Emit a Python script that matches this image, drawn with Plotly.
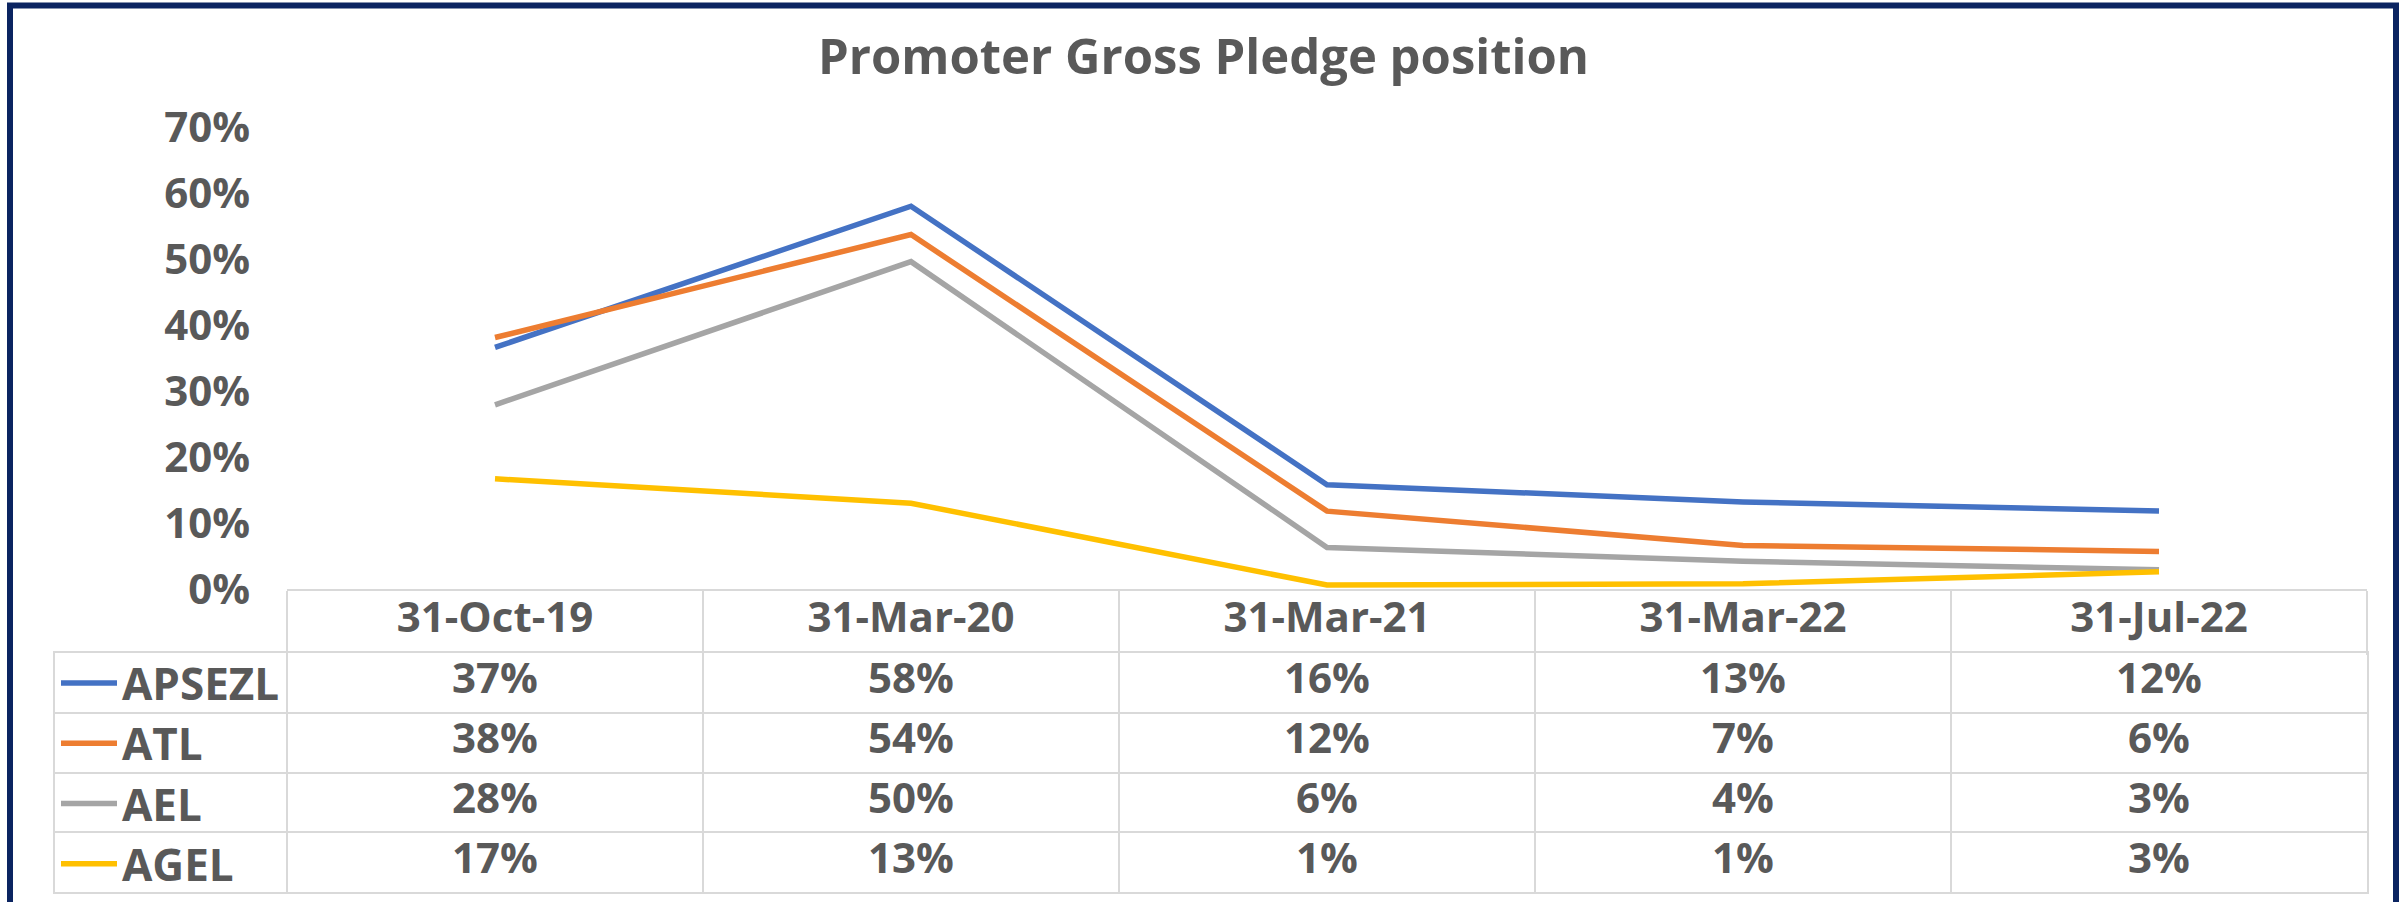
import plotly.graph_objects as go

# ---------------- data ----------------
dates = ["31-Oct-19", "31-Mar-20", "31-Mar-21", "31-Mar-22", "31-Jul-22"]
series_names = ["APSEZL", "ATL", "AEL", "AGEL"]
apsezl = [0.366, 0.580, 0.158, 0.132, 0.118]
atl = [0.381, 0.537, 0.118, 0.066, 0.057]
ael = [0.279, 0.496, 0.063, 0.042, 0.029]
agel = [0.167, 0.130, 0.006, 0.008, 0.026]
series_values = [apsezl, atl, ael, agel]
colors = ["#4472C4", "#ED7D31", "#A5A5A5", "#FFC000"]
y_ticks = [0.0, 0.1, 0.2, 0.3, 0.4, 0.5, 0.6, 0.7]
title_text = "Promoter Gross Pledge position"

# ---------------- styling ----------------
W, H = 2407, 902
FONT = "Open Sans"
TXT = "#595959"
GRID = "#D9D9D9"
NAVY = "#0B2461"

plot_left, plot_right = 287, 2367
plot_top, plot_bottom = 127, 589
table_left, table_top, table_bottom = 55, 653, 892
col_w = (plot_right - plot_left) / len(dates)
label_w = plot_left - table_left


def pct(v):
    return f"{int(v * 100 + 0.5)}%"


fig = go.Figure()

# lines
for name, vals, c in zip(series_names, series_values, colors):
    fig.add_trace(go.Scatter(
        x=dates, y=vals, name=name, mode="lines",
        line=dict(color=c, width=5.5),
        xaxis="x", yaxis="y", hoverinfo="skip",
    ))

# data table cell texts
for name, vals in zip(series_names, series_values):
    fig.add_trace(go.Scatter(
        x=list(range(len(dates))), y=[name] * len(dates),
        text=[pct(v) for v in vals], mode="text",
        textposition="middle center",
        textfont=dict(family=FONT, size=42, color=TXT, weight="bold"),
        xaxis="x2", yaxis="y2", showlegend=False, hoverinfo="skip",
    ))

fig.update_layout(
    width=W, height=H,
    autosize=False,
    margin=dict(l=0, r=0, t=0, b=0, pad=0, autoexpand=False),
    paper_bgcolor="white", plot_bgcolor="rgba(0,0,0,0)",
    font=dict(family=FONT, color=TXT),
    title=dict(
        text=title_text, x=0.5, xanchor="center", xref="container",
        y=1 - 57 / H, yanchor="middle", yref="container", automargin=False,
        font=dict(family=FONT, size=49, color=TXT, weight="bold"),
    ),
    xaxis=dict(
        domain=[plot_left / W, plot_right / W], anchor="y", automargin=False,
        type="category", categoryarray=dates, range=[-0.5, len(dates) - 0.5],
        showgrid=False, zeroline=False,
        showline=True, linecolor=GRID, linewidth=2,
        ticks="outside", tickson="boundaries", ticklen=64, tickwidth=2, tickcolor=GRID,
        tickfont=dict(family=FONT, size=42, color=TXT, weight="bold"),
        ticklabelstandoff=-9, fixedrange=True,
    ),
    yaxis=dict(
        domain=[1 - plot_bottom / H, 1 - plot_top / H], anchor="x", automargin=False,
        range=[0, 0.7], tickvals=y_ticks, tickformat=".0%",
        showgrid=False, zeroline=False, showline=False, ticks="",
        tickfont=dict(family=FONT, size=42, color=TXT, weight="bold"),
        ticklabelstandoff=36, fixedrange=True,
    ),
    xaxis2=dict(
        domain=[table_left / W, plot_right / W], anchor="y2", automargin=False,
        range=[-0.5 - label_w / col_w, len(dates) - 0.5],
        tickvals=[i - 0.5 for i in range(len(dates))],
        showticklabels=False, ticks="",
        showgrid=True, gridcolor=GRID, gridwidth=2, zeroline=False,
        showline=True, mirror=True, linecolor=GRID, linewidth=2, fixedrange=True,
    ),
    yaxis2=dict(
        domain=[1 - table_bottom / H, 1 - table_top / H], anchor="x2", automargin=False,
        type="category", categoryarray=series_names,
        range=[len(series_names) - 0.5, -0.5],
        tickson="boundaries", showticklabels=False, ticks="",
        showgrid=True, gridcolor=GRID, gridwidth=2, zeroline=False,
        showline=True, mirror=True, linecolor=GRID, linewidth=2, fixedrange=True,
    ),
    legend=dict(
        x=56 / W, xanchor="left", y=1 - 648 / H, yanchor="top",
        xref="container", yref="container",
        font=dict(family=FONT, size=44, color=TXT, weight="bold"),
        itemwidth=56, bgcolor="rgba(0,0,0,0)", borderwidth=0,
        itemclick=False, itemdoubleclick=False, traceorder="normal",
    ),
    showlegend=True,
    shapes=[dict(
        type="rect", xref="paper", yref="paper",
        x0=10 / W, x1=2396 / W, y0=-0.05, y1=1 - 5.5 / H,
        line=dict(color=NAVY, width=6), fillcolor="rgba(0,0,0,0)", layer="above",
    )],
)

fig.write_html(
    "out.html",
    config={"displayModeBar": False},
    post_script="document.body.style.margin='0';document.body.style.overflow='hidden';",
)
